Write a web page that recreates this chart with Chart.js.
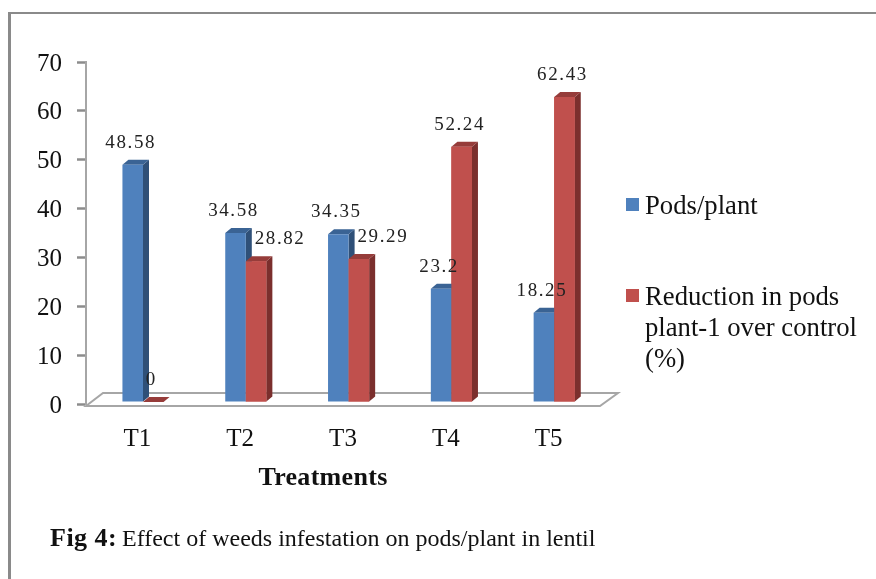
<!DOCTYPE html>
<html>
<head>
<meta charset="utf-8">
<style>
html,body{margin:0;padding:0;background:#fff;}
#wrap{position:relative;width:876px;height:579px;}
</style>
<script src="https://cdn.jsdelivr.net/npm/chart.js@4"></script>
</head>
<body>
<div id="wrap"><canvas id="c" width="876" height="579"></canvas></div>
<script>
const categories = ['T1','T2','T3','T4','T5'];
const podsPerPlant = [48.58,34.58,34.35,23.2,18.25];
const reduction = [0,28.82,29.29,52.24,62.43];
const seriesNames = ['Pods/plant','Reduction in pods plant-1 over control (%)'];
const legendLines = [['Pods/plant'],['Reduction in pods','plant-1 over control','(%)']];
const yTicks = [0,10,20,30,40,50,60,70];
const axisTitle = 'Treatments';
const captionBold = 'Fig 4:';
const captionText = 'Effect of weeds infestation on pods/plant in lentil';

const SERIF = '"Liberation Serif", serif';
const AXIS = '#8c8c8c';
const DEPTH_X = 6, DEPTH_Y = 5;      // 3D extrusion
const SHIFT_X = 5.6, SHIFT_Y = -2;   // bars stand inside the floor
const styles = [
  {front:'#4f81bd', side:'#2f5078', top:'#3a6394'},
  {front:'#c0504d', side:'#7b2f2d', top:'#963c3a'}
];

function drawExtrusion(chart,index){
  const {ctx} = chart;
  const st = styles[index];
  chart.getDatasetMeta(index).data.forEach(bar=>{
    const p = bar.getProps(['x','y','base','width'],true);
    const r = p.x+p.width/2, l = p.x-p.width/2;
    ctx.fillStyle = st.side;
    ctx.beginPath();
    ctx.moveTo(r,p.y); ctx.lineTo(r+DEPTH_X,p.y-DEPTH_Y);
    ctx.lineTo(r+DEPTH_X,p.base-DEPTH_Y); ctx.lineTo(r,p.base);
    ctx.closePath(); ctx.fill();
    ctx.fillStyle = st.top;
    ctx.beginPath();
    ctx.moveTo(l,p.y); ctx.lineTo(l+DEPTH_X,p.y-DEPTH_Y);
    ctx.lineTo(r+DEPTH_X,p.y-DEPTH_Y); ctx.lineTo(r,p.y);
    ctx.closePath(); ctx.fill();
  });
}

const frame = {
  id:'frame',
  beforeDraw(chart){
    const {ctx} = chart;
    ctx.save();
    ctx.fillStyle='#fff'; ctx.fillRect(0,0,876,579);
    ctx.fillStyle='#8a8a8a';
    ctx.fillRect(8,12,868,2);
    ctx.fillRect(8,12,3,567);
    ctx.restore();
  }
};

const floor = {
  id:'floor',
  beforeDatasetsDraw(chart){
    const {ctx, chartArea:a} = chart;
    const y0 = chart.scales.y.getPixelForValue(0);
    ctx.save();
    ctx.strokeStyle='#a6a6a6'; ctx.lineWidth=2;
    ctx.beginPath();
    ctx.moveTo(a.left, y0+2);
    ctx.lineTo(a.left+17, y0-11);
    ctx.lineTo(a.right+18, y0-11);
    ctx.lineTo(a.right, y0+2);
    ctx.closePath();
    ctx.stroke();
    ctx.restore();
  },
  beforeDatasetDraw(chart,args){
    const {ctx} = chart;
    ctx.save();
    ctx.translate(SHIFT_X,SHIFT_Y);
    if(args.index===0) drawExtrusion(chart,0);
  },
  afterDatasetDraw(chart,args){
    const {ctx} = chart;
    // Chart.js paints the later dataset first; the red bars must sit in front of the blue depth faces
    if(args.index===0){
      drawExtrusion(chart,1);
      chart.getDatasetMeta(1).data.forEach(b=>b.draw(ctx));
    }
    ctx.restore();
  }
};

const valueLabels = {
  id:'valueLabels',
  afterDatasetsDraw(chart){
    const {ctx} = chart;
    // 28.82 and 29.29 sit beside the taller neighbour rather than above their bar
    const beside = (i,j)=> i===1 && (j===1 || j===2);
    ctx.save();
    ctx.font = '19px '+SERIF;
    ctx.letterSpacing = '1.6px';
    ctx.fillStyle='#222';
    ctx.textAlign='center'; ctx.textBaseline='middle';
    chart.data.datasets.forEach((ds,i)=>{
      chart.getDatasetMeta(i).data.forEach((bar,j)=>{
        const dx = beside(i,j) ? 24 : -2;
        ctx.fillText(String(ds.data[j]), bar.x+SHIFT_X+dx, bar.y+SHIFT_Y-22);
      });
    });
    ctx.restore();
  }
};

const captions = {
  id:'captions',
  afterDraw(chart){
    const {ctx} = chart;
    ctx.save();
    ctx.fillStyle='#111'; ctx.textBaseline='alphabetic'; ctx.textAlign='center';
    ctx.font='bold 26px '+SERIF;
    ctx.letterSpacing='0.3px';
    ctx.fillText(axisTitle,323,485);
    ctx.textAlign='left';
    ctx.font='bold 26px '+SERIF;
    ctx.letterSpacing='0.5px';
    ctx.fillText(captionBold,50,546);
    ctx.letterSpacing='0px';
    ctx.font='24px '+SERIF;
    ctx.fillText(captionText,122,546);
    // legend
    ctx.font='26.7px '+SERIF;
    const tops=[198,289];
    legendLines.forEach((lines,i)=>{
      ctx.fillStyle=styles[i].front;
      ctx.fillRect(626,tops[i],13,13);
      ctx.fillStyle='#111';
      lines.forEach((t,k)=>ctx.fillText(t,645,tops[i]+16+k*31));
    });
    ctx.restore();
  }
};

new Chart(document.getElementById('c'),{
  type:'bar',
  data:{
    labels:categories,
    datasets:[
      {label:seriesNames[0],data:podsPerPlant,backgroundColor:styles[0].front},
      {label:seriesNames[1],data:reduction,backgroundColor:styles[1].front}
    ]
  },
  plugins:[frame,floor,valueLabels,captions],
  options:{
    responsive:false,
    animation:false,
    layout:{padding:{left:0,top:62,right:276,bottom:0}},
    datasets:{bar:{barPercentage:1,categoryPercentage:0.4}},
    scales:{
      x:{
        grid:{display:false,drawTicks:false},
        border:{display:false},
        ticks:{font:{family:SERIF,size:25},color:'#111',padding:20,maxRotation:0},
        afterFit(s){ s.height=175; }
      },
      y:{
        min:0,max:70,
        afterBuildTicks(s){ s.ticks = yTicks.map(v=>({value:v})); },
        afterFit(s){ s.width=86; },
        grid:{display:true,drawOnChartArea:false,drawTicks:true,tickLength:9,tickColor:AXIS,tickWidth:2.5},
        border:{display:true,color:'#a6a6a6',width:2},
        ticks:{font:{family:SERIF,size:25},color:'#111',padding:15,labelOffset:2}
      }
    },
    plugins:{
      tooltip:{enabled:false},
      legend:{display:false}
    }
  }
});
</script>
</body>
</html>
